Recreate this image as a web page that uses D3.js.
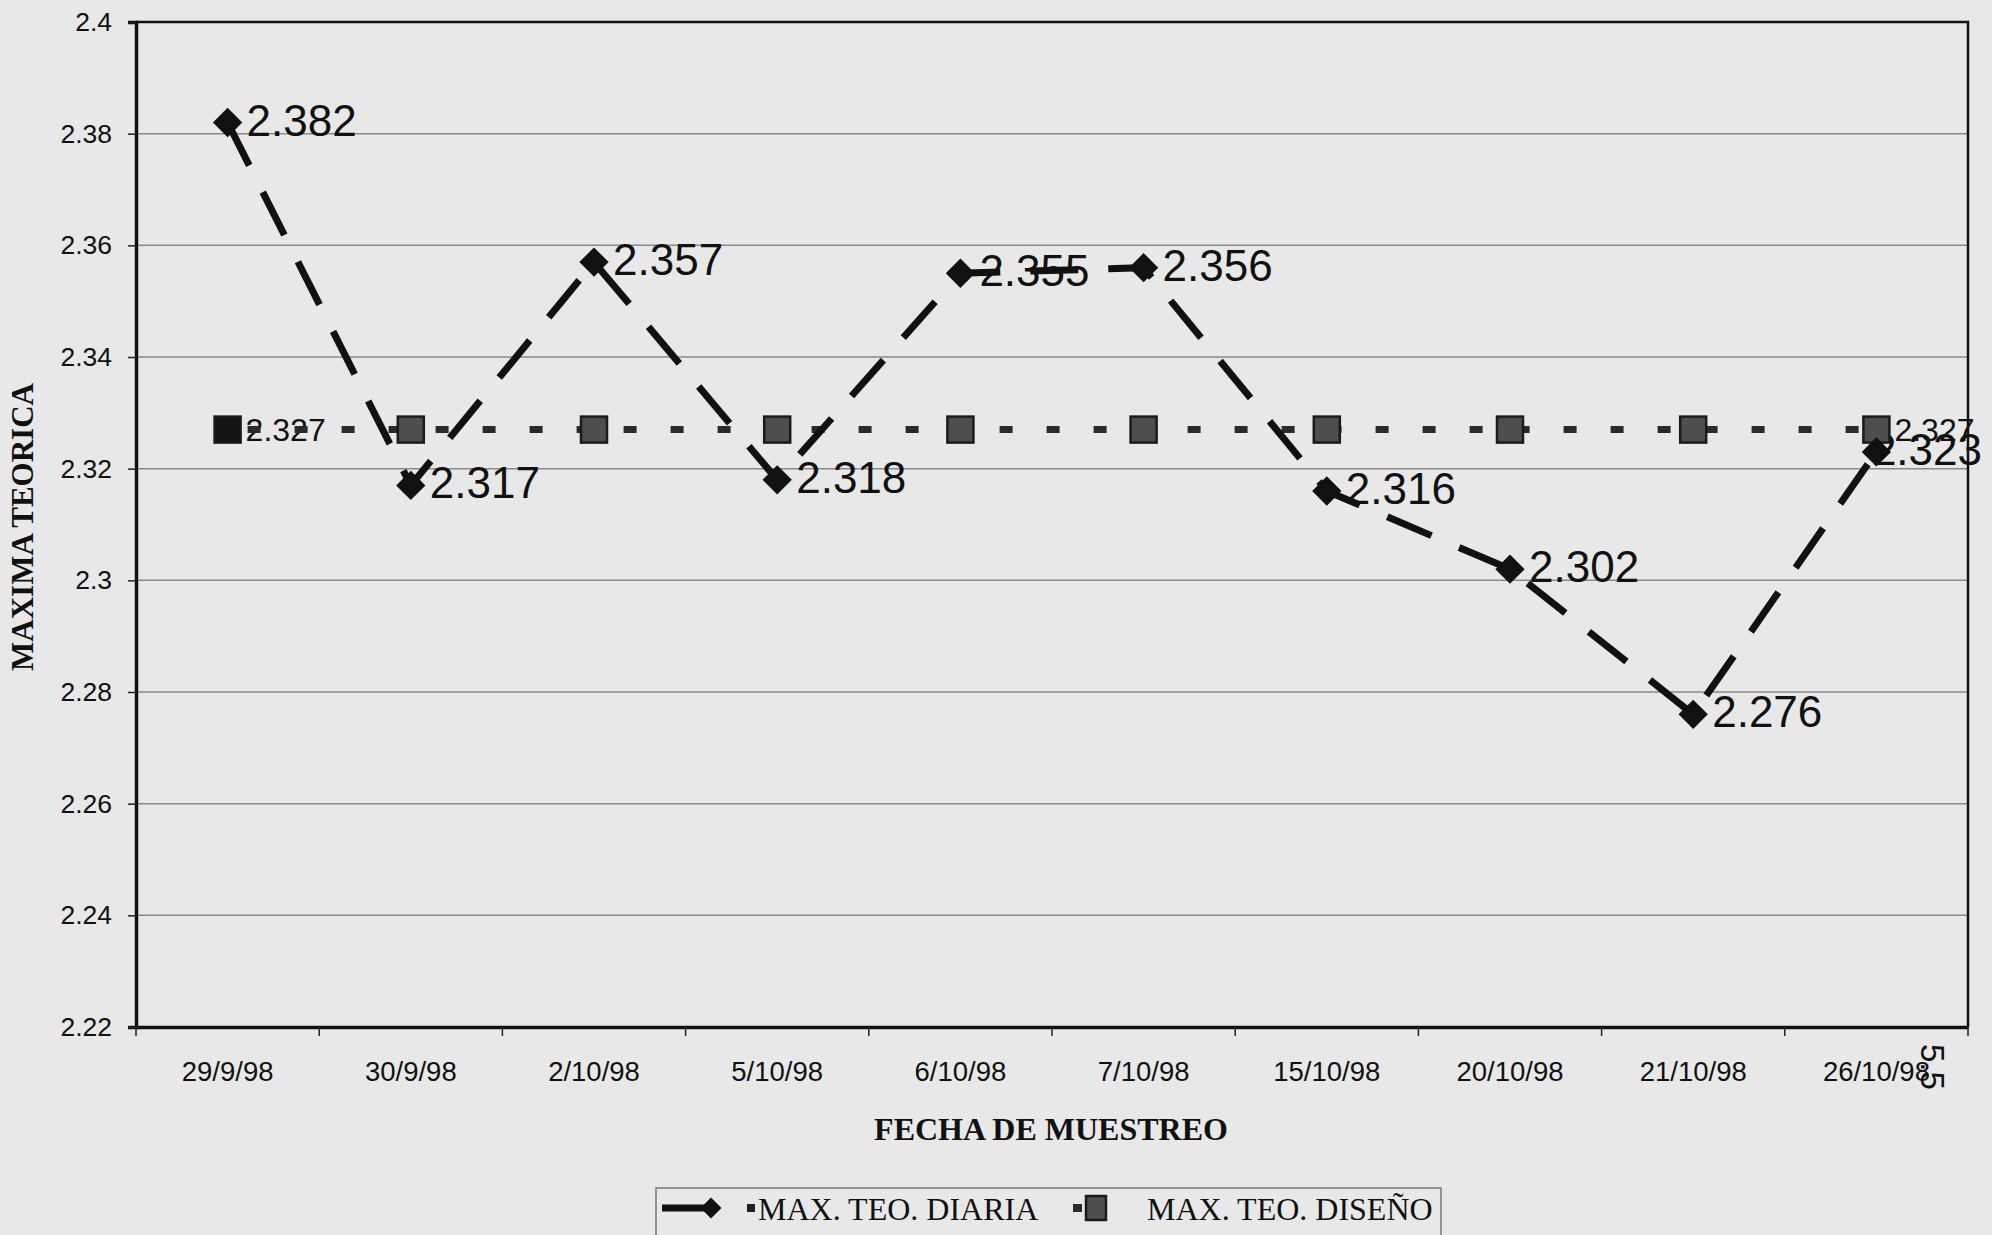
<!DOCTYPE html>
<html>
<head>
<meta charset="utf-8">
<script src="https://cdn.jsdelivr.net/npm/d3@7"></script>
<style>
  html, body { margin: 0; padding: 0; background: #e8e8e8; }
  svg { display: block; }
</style>
</head>
<body>
<svg id="chart" width="1992" height="1235"></svg>
<script>
const categories = ["29/9/98","30/9/98","2/10/98","5/10/98","6/10/98","7/10/98","15/10/98","20/10/98","21/10/98","26/10/98"];
const diariaValues = [2.382, 2.317, 2.357, 2.318, 2.355, 2.356, 2.316, 2.302, 2.276, 2.323];
const disenoValues = [2.327, 2.327, 2.327, 2.327, 2.327, 2.327, 2.327, 2.327, 2.327, 2.327];
const disenoLabelIdx = [0, 9];
const yTicks = [2.22, 2.24, 2.26, 2.28, 2.3, 2.32, 2.34, 2.36, 2.38, 2.4];
const yTickLabels = ["2.22","2.24","2.26","2.28","2.3","2.32","2.34","2.36","2.38","2.4"];
const seriesNames = ["MAX. TEO. DIARIA", "MAX. TEO. DISEÑO"];
const xTitle = "FECHA DE MUESTREO";
const yTitle = "MAXIMA TEORICA";

const svg = d3.select("#chart");
const L = 136, R = 1968, T = 22, B = 1027;
const x = d3.scaleBand().domain(categories).range([L, R]);
const y = d3.scaleLinear().domain([2.22, 2.4]).range([B, T]);
const cx = c => x(c) + x.bandwidth() / 2;

// gridlines
svg.append("g").selectAll("line").data(yTicks.filter(v => v > 2.22 && v < 2.4)).join("line")
  .attr("x1", L).attr("x2", R).attr("y1", d => y(d)).attr("y2", d => y(d))
  .attr("stroke", "#8a8a8a").attr("stroke-width", 1.5);

// plot border (top/right)
svg.append("path").attr("d", `M${L},${T}H${R}V${B}`).attr("fill", "none")
  .attr("stroke", "#111").attr("stroke-width", 2.5);

// y axis
const yAxis = svg.append("g").attr("transform", `translate(${L},0)`)
  .call(d3.axisLeft(y).tickValues(yTicks).tickSize(8).tickPadding(16)
    .tickFormat((d, i) => yTickLabels[i]));
yAxis.select(".domain").attr("stroke", "#111").attr("stroke-width", 3.5);
yAxis.selectAll(".tick line").attr("stroke", "#222").attr("stroke-width", 1.5);
yAxis.selectAll("text").attr("font-family", "'Liberation Sans', Arial, sans-serif")
  .attr("font-size", 26.5).attr("fill", "#111");

// x axis
const xAxis = svg.append("g").attr("transform", `translate(0,${B})`)
  .call(d3.axisBottom(x).tickSize(0).tickPadding(34));
xAxis.select(".domain").attr("stroke", "#111").attr("stroke-width", 3.5);
xAxis.selectAll("text").attr("font-family", "'Liberation Sans', Arial, sans-serif")
  .attr("font-size", 27.5).attr("fill", "#111");
// tick marks at category boundaries
const bounds = categories.map(c => x(c)).concat([R]);
svg.append("g").selectAll("line").data(bounds).join("line")
  .attr("x1", d => d).attr("x2", d => d).attr("y1", B).attr("y2", B + 9)
  .attr("stroke", "#222").attr("stroke-width", 1.5);

// axis titles
svg.append("text").attr("x", (L + R) / 2 - 1).attr("y", 1140)
  .attr("text-anchor", "middle").attr("font-family", "'Liberation Serif', 'Times New Roman', serif")
  .attr("font-weight", "bold").attr("font-size", 32).attr("fill", "#111").text(xTitle);
svg.append("text").attr("transform", "translate(33,527) rotate(-90)")
  .attr("text-anchor", "middle").attr("font-family", "'Liberation Serif', 'Times New Roman', serif")
  .attr("font-weight", "bold").attr("font-size", 31).attr("fill", "#111").text(yTitle);

// data labels (drawn under the lines)
const lblG = svg.append("g").attr("font-family", "'Liberation Sans', Arial, sans-serif").attr("fill", "#111");
lblG.selectAll("text.dl").data(categories).join("text").attr("class", "dl")
  .attr("x", c => cx(c) + 19).attr("y", (c, i) => y(diariaValues[i]) + 13)
  .attr("font-size", 44).text((c, i) => diariaValues[i].toFixed(3))
  .each(function() {
    const w = this.getComputedTextLength();
    const x0 = +this.getAttribute("x");
    if (x0 + w > 1982) this.setAttribute("x", 1982 - w);
  });
lblG.selectAll("text.ds").data(disenoLabelIdx).join("text").attr("class", "ds")
  .attr("x", i => cx(categories[i]) + 18).attr("y", i => y(disenoValues[i]) + 11)
  .attr("font-size", 32).text(i => disenoValues[i].toFixed(3));

// design line
svg.append("path").datum(disenoValues)
  .attr("d", d3.line().x((d, i) => cx(categories[i])).y(d => y(d)))
  .attr("fill", "none").attr("stroke", "#2a2a2a").attr("stroke-width", 7)
  .attr("stroke-dasharray", "13,34").attr("stroke-dashoffset", -20);

// diaria line
svg.append("path").datum(diariaValues)
  .attr("d", d3.line().x((d, i) => cx(categories[i])).y(d => y(d)))
  .attr("fill", "none").attr("stroke", "#111").attr("stroke-width", 7)
  .attr("stroke-dasharray", "48,30");

// design markers
svg.append("g").selectAll("rect").data(disenoValues).join("rect")
  .attr("x", (d, i) => cx(categories[i]) - 13).attr("y", d => y(d) - 13)
  .attr("width", 26).attr("height", 26)
  .attr("fill", (d, i) => i === 0 ? "#141414" : "#4e4e4e")
  .attr("stroke", "#1a1a1a").attr("stroke-width", 2.5);

// diaria markers (rotated squares)
const dsym = d3.symbol().type(d3.symbolSquare).size(430);
svg.append("g").selectAll("path").data(diariaValues).join("path")
  .attr("transform", (d, i) => `translate(${cx(categories[i])},${y(d)}) rotate(45)`)
  .attr("d", dsym).attr("fill", "#111");

// stray rotated text at right
svg.append("text").attr("transform", "translate(1921,1044) rotate(90)")
  .attr("font-family", "'Liberation Sans', Arial, sans-serif").attr("font-size", 33)
  .attr("fill", "#111").text("5.5");

// legend
const lg = svg.append("g");
lg.append("rect").attr("x", 656).attr("y", 1188).attr("width", 785).attr("height", 60)
  .attr("fill", "none").attr("stroke", "#777").attr("stroke-width", 1.5);
const ly = 1208;
lg.append("line").attr("x1", 662).attr("x2", 712).attr("y1", ly).attr("y2", ly)
  .attr("stroke", "#111").attr("stroke-width", 7);
lg.append("path").attr("transform", `translate(711,${ly}) rotate(45)`).attr("d", d3.symbol().type(d3.symbolSquare).size(220)).attr("fill", "#111");
lg.append("rect").attr("x", 747).attr("y", ly - 4).attr("width", 8).attr("height", 8).attr("fill", "#222");
lg.append("text").attr("x", 758).attr("y", 1220).attr("font-family", "'Liberation Serif', 'Times New Roman', serif")
  .attr("font-size", 32).attr("fill", "#111").text(seriesNames[0]);
lg.append("rect").attr("x", 1073).attr("y", ly - 4).attr("width", 9).attr("height", 8).attr("fill", "#2a2a2a");
lg.append("rect").attr("x", 1086).attr("y", ly - 12).attr("width", 20).attr("height", 24)
  .attr("fill", "#4e4e4e").attr("stroke", "#1a1a1a").attr("stroke-width", 2.5);
lg.append("text").attr("x", 1147).attr("y", 1220).attr("font-family", "'Liberation Serif', 'Times New Roman', serif")
  .attr("font-size", 32).attr("fill", "#111").text(seriesNames[1]);
</script>
</body>
</html>
